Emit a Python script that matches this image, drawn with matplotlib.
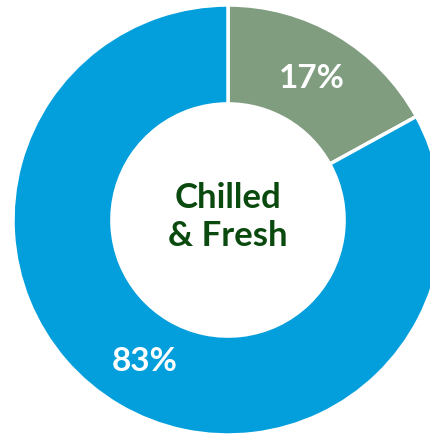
import matplotlib.pyplot as plt

# share of the category split into the two segments
labels = ["Other", "Chilled & Fresh"]
shares = [17, 83]
colors = ["#809d80", "#039fdc"]
centre_text = "Chilled\n& Fresh"

plt.rcParams['font.family'] = ['Lato', 'DejaVu Sans']

fig = plt.figure(figsize=(4.31, 4.34), dpi=100)
# ring centre sits at (228, 220) px with a 215 px outer radius; the edge is cropped
R = 215
ax = fig.add_axes([(228 - R) / 431, (434 - 220 - R) / 434, 2 * R / 431, 2 * R / 434])

wedges, texts, autotexts = ax.pie(
    shares, colors=colors, startangle=90, counterclock=False,
    autopct=lambda p: f"{p:.0f}%", pctdistance=0.765,
    wedgeprops=dict(width=0.46, edgecolor="white", linewidth=2.5),
    textprops=dict(color="white", fontsize=24, fontweight="bold"),
)
ax.set_xlim(-1, 1)
ax.set_ylim(-1, 1)
ax.set_aspect("equal")

ax.text(0, 0.015, centre_text, ha="center", va="center", fontsize=25,
        fontweight="bold", color="#0b4a0e", linespacing=1.22)

fig.savefig("out.png", dpi=100)
